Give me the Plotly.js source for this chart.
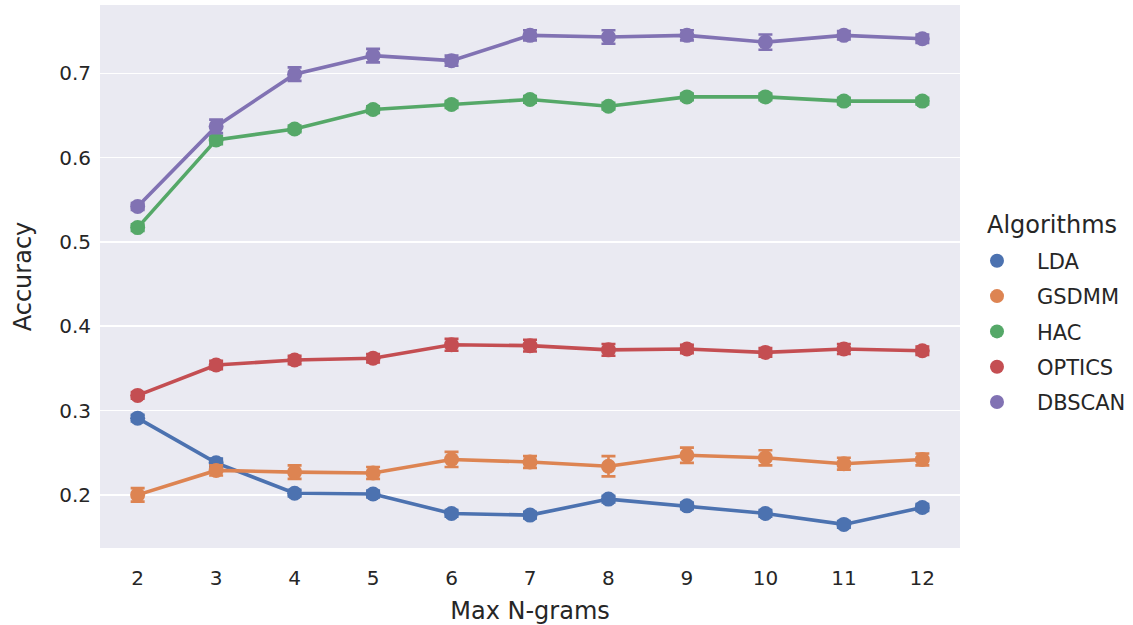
<!DOCTYPE html>
<html>
<head>
<meta charset="utf-8">
<script src="https://cdn.plot.ly/plotly-3.0.1.min.js"></script>
<style>html,body{margin:0;padding:0;background:#fff;}#chart{width:1133px;height:625px;}</style>
</head>
<body>
<div id="chart"></div>
<script>
const ngrams = [2, 3, 4, 5, 6, 7, 8, 9, 10, 11, 12];
const algorithms = ["LDA", "GSDMM", "HAC", "OPTICS", "DBSCAN"];
const colors = ["#4C72B0", "#DD8452", "#55A868", "#C44E52", "#8172B3"];
const yTicks = [0.2, 0.3, 0.4, 0.5, 0.6, 0.7];

const lda    = [0.291, 0.238, 0.202, 0.201, 0.178, 0.176, 0.195, 0.187, 0.178, 0.165, 0.185];
const gsdmm  = [0.200, 0.229, 0.227, 0.226, 0.242, 0.239, 0.234, 0.247, 0.244, 0.237, 0.242];
const hac    = [0.517, 0.621, 0.634, 0.657, 0.663, 0.669, 0.661, 0.672, 0.672, 0.667, 0.667];
const optics = [0.318, 0.354, 0.360, 0.362, 0.378, 0.377, 0.372, 0.373, 0.369, 0.373, 0.371];
const dbscan = [0.542, 0.637, 0.699, 0.721, 0.715, 0.745, 0.743, 0.745, 0.737, 0.745, 0.741];

const ldaErr    = [0.004, 0.005, 0.004, 0.004, 0.004, 0.004, 0.004, 0.004, 0.004, 0.004, 0.004];
const gsdmmErr  = [0.008, 0.006, 0.008, 0.007, 0.009, 0.007, 0.012, 0.009, 0.009, 0.007, 0.007];
const hacErr    = [0.004, 0.005, 0.004, 0.004, 0.004, 0.004, 0.004, 0.004, 0.004, 0.004, 0.004];
const opticsErr = [0.004, 0.005, 0.005, 0.005, 0.007, 0.007, 0.007, 0.005, 0.005, 0.006, 0.005];
const dbscanErr = [0.004, 0.008, 0.008, 0.008, 0.006, 0.006, 0.008, 0.006, 0.009, 0.005, 0.005];

const seriesVals = [lda, gsdmm, hac, optics, dbscan];
const seriesErr = [ldaErr, gsdmmErr, hacErr, opticsErr, dbscanErr];

const textColor = "#262626";
const traces = [];
seriesVals.forEach((vals, i) => {
  traces.push({
    x: ngrams, y: vals, type: "scatter", mode: "lines+markers",
    name: algorithms[i], showlegend: false,
    line: {color: colors[i], width: 3.6},
    marker: {color: colors[i], size: 15},
    error_y: {type: "data", array: seriesErr[i], visible: true, color: colors[i], thickness: 2.6, width: 7}
  });
});
algorithms.forEach((name, i) => {
  traces.push({
    x: [null], y: [null], type: "scatter", mode: "markers",
    name: name, legendgroup: name, showlegend: true,
    marker: {color: colors[i], size: 14}
  });
});

const layout = {
  width: 1133, height: 625,
  margin: {l: 100, r: 173, t: 5, b: 77, autoexpand: false},
  paper_bgcolor: "#ffffff",
  plot_bgcolor: "#EAEAF2",
  font: {family: "DejaVu Sans, sans-serif", color: textColor, size: 20},
  xaxis: {
    range: [1.52, 12.48], tickvals: ngrams, ticktext: ngrams.map(String),
    showgrid: false, zeroline: false, showline: false, ticks: "",
    ticklabelstandoff: 16, automargin: false,
    tickfont: {size: 20, color: textColor},
    title: {text: "Max N-grams", font: {size: 24, color: textColor}, standoff: 14}
  },
  yaxis: {
    range: [0.137, 0.781], tickvals: yTicks, ticktext: yTicks.map(v => v.toFixed(1)),
    showgrid: true, gridcolor: "#ffffff", gridwidth: 1.6, zeroline: false, showline: false, ticks: "",
    ticklabelstandoff: 8, automargin: false,
    tickfont: {size: 20, color: textColor},
    title: {text: "Accuracy", font: {size: 24, color: textColor}, standoff: 20}
  },
  legend: {
    x: 0.9965, y: 0.566, xanchor: "left", yanchor: "top",
    bgcolor: "rgba(0,0,0,0)",
    font: {size: 21, color: textColor},
    traceorder: "grouped", tracegroupgap: 5, itemwidth: 70
  },
  annotations: [{
    text: "Algorithms", xref: "paper", yref: "paper",
    x: (985 - 100) / 860, y: (548 - 225) / 543, xanchor: "left", yanchor: "middle",
    showarrow: false, font: {size: 24, color: textColor}
  }],
  showlegend: true
};

Plotly.newPlot("chart", traces, layout, {displayModeBar: false, staticPlot: true});
</script>
</body>
</html>
